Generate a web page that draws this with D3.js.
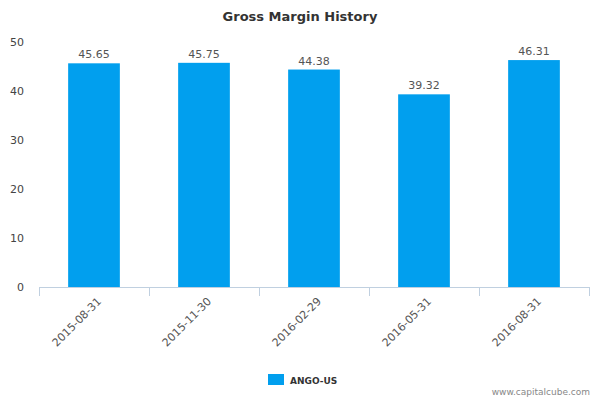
<!DOCTYPE html>
<html><head><meta charset="utf-8">
<script src="https://cdn.jsdelivr.net/npm/d3@7"></script>
<style>body{margin:0;background:#fff}text{font-family:"DejaVu Sans",sans-serif}</style>
</head><body><svg id="c" width="600" height="400"></svg>
<script>
const categories=["2015-08-31","2015-11-30","2016-02-29","2016-05-31","2016-08-31"];
const values=[45.65,45.75,44.38,39.32,46.31];
const yTicks=[0,10,20,30,40,50];
const seriesName="ANGO-US";
const svg=d3.select("#c");
const x=d3.scaleBand().domain(categories).range([39,589]).paddingInner(0.53).paddingOuter(0.265);
const y=d3.scaleLinear().domain([0,50]).range([287,42]);
svg.append("text").attr("x",300).attr("y",21).attr("text-anchor","middle").attr("font-size",13).attr("font-weight","bold").attr("fill","#333").text("Gross Margin History");
svg.selectAll(".yl").data(yTicks).join("text").attr("x",24).attr("y",d=>y(d)+4).attr("text-anchor","end").attr("font-size",11).attr("fill","#444").text(d=>d);
svg.selectAll("rect.b").data(values).join("rect").attr("x",(d,i)=>x(categories[i])).attr("y",d=>y(d)).attr("width",x.bandwidth()).attr("height",d=>y(0)-y(d)).attr("fill","#019fee");
svg.selectAll(".vl").data(values).join("text").attr("x",(d,i)=>x(categories[i])+x.bandwidth()/2).attr("y",d=>y(d)>60?y(d)-5:y(d)+14).attr("text-anchor","middle").attr("font-size",11).attr("fill","#555").text(d=>d.toFixed(2));
svg.append("line").attr("x1",39).attr("x2",589).attr("y1",287.5).attr("y2",287.5).attr("stroke","#c0d0e0");
const step=x.step();
const bounds=d3.range(categories.length+1).map(i=>39+i*110);
svg.selectAll(".tk").data(bounds).join("line").attr("x1",d=>d+0.5).attr("x2",d=>d+0.5).attr("y1",287).attr("y2",296).attr("stroke","#c0d0e0");
svg.selectAll(".xl").data(categories).join("text").attr("transform",d=>`translate(${x(d)+x.bandwidth()/2+8},${302}) rotate(-45)`).attr("text-anchor","end").attr("font-size",11).attr("fill","#555").text(d=>d);
svg.append("rect").attr("x",268).attr("y",374).attr("width",16).attr("height",11).attr("fill","#019fee");
svg.append("text").attr("x",290).attr("y",384).attr("font-size",9).attr("font-weight","bold").attr("fill","#333").text(seriesName);
svg.append("text").attr("x",590).attr("y",395).attr("text-anchor","end").attr("font-size",9).attr("fill","#888").text("www.capitalcube.com");
</script></body></html>
